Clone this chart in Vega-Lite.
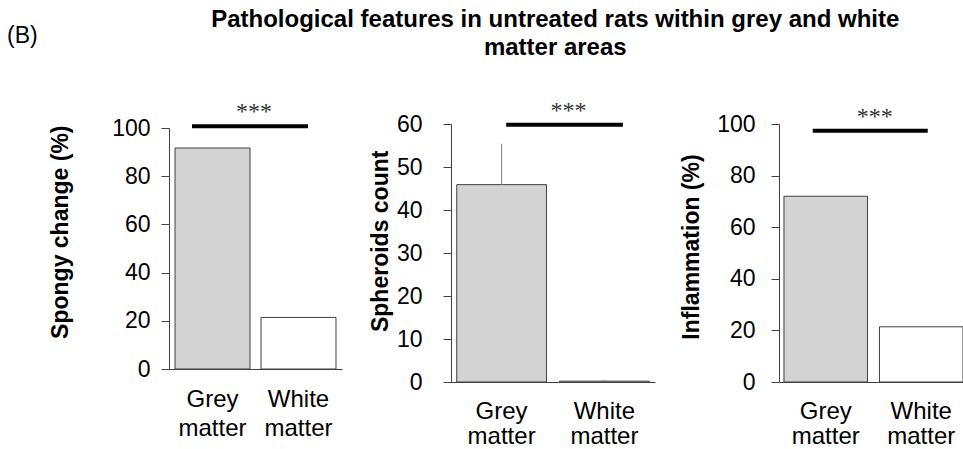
{
  "$schema": "https://vega.github.io/schema/vega-lite/v6.json",
  "autosize": {"type": "none"},
  "padding": {"left": 169, "top": 124, "right": 794, "bottom": 325},
  "background": "white",
  "title": {
    "text": ["Pathological features in untreated rats within grey and white", "matter areas"],
    "font": "Liberation Sans", "fontSize": 24, "fontWeight": "bold", "color": "black",
    "lineHeight": 28, "anchor": "middle", "baseline": "bottom", "dx": 70, "offset": -59
  },
  "config": {
    "view": {"stroke": null},
    "axis": {
      "labelFont": "Liberation Sans", "titleFont": "Liberation Sans",
      "labelColor": "black", "titleColor": "black",
      "domainColor": "#404040", "tickColor": "#404040", "grid": false
    }
  },
  "datasets": {
    "spongy": [
      {"region": "Grey matter", "value": 91.7},
      {"region": "White matter", "value": 21.4}
    ],
    "spongy_sig": [{"from": "Grey matter", "to": "White matter", "y": 100.7, "label": "***"}],
    "spheroids": [
      {"region": "Grey matter", "value": 45.9, "upper": 55.4},
      {"region": "White matter", "value": 0.2, "upper": 0.5}
    ],
    "spheroids_sig": [{"from": "Grey matter", "to": "White matter", "y": 59.8, "label": "***"}],
    "inflammation": [
      {"region": "Grey matter", "value": 72.0},
      {"region": "White matter", "value": 21.4}
    ],
    "inflammation_sig": [{"from": "Grey matter", "to": "White matter", "y": 97.4, "label": "***"}]
  },
  "bounds": "flush",
  "spacing": 109,
  "hconcat": [
    {
      "width": 173,
      "height": 245,
      "title": {"text": "(B)", "anchor": "start", "font": "Liberation Sans", "fontSize": 23, "fontWeight": "normal", "color": "black", "baseline": "bottom", "dx": -42, "offset": 29},
      "layer": [
        {
          "data": {"name": "spongy"},
          "mark": {"type": "bar", "stroke": "#404040", "strokeWidth": 1},
          "encoding": {
            "x": {
              "field": "region", "type": "nominal", "title": null,
              "scale": {"paddingInner": 0.128, "paddingOuter": 0.07},
              "axis": {"labelAngle": 0, "ticks": false, "tickSize": 0, "labelExpr": "split(datum.label, ' ')", "labelFontSize": 24, "labelLineHeight": 29, "labelPadding": 18, "labelBaseline": "top"}
            },
            "y": {
              "field": "value", "type": "quantitative", "title": "Spongy change (%)",
              "scale": {"domain": [0, 100], "range": [245, 4], "nice": false, "zero": true},
              "axis": {"values": [0, 10, 20, 30, 40, 50, 60, 70, 80, 90, 100], "labelExpr": "datum.value % 20 === 0 ? datum.label : ''", "tickSize": 8, "labelPadding": 11, "labelFontSize": 23, "titleFontSize": 23, "titleFontWeight": "bold", "titleX": -97, "titleY": 107.7, "titleAlign": "center", "titleBaseline": "bottom", "titleAngle": 270}
            },
            "color": {"field": "region", "type": "nominal", "scale": {"domain": ["Grey matter", "White matter"], "range": ["#d3d3d3", "#ffffff"]}, "legend": null}
          }
        },
        {
          "data": {"name": "spongy_sig"},
          "mark": {"type": "rule", "strokeWidth": 4, "color": "black", "xOffset": -20.5, "x2Offset": 9.5},
          "encoding": {
            "x": {"field": "from", "type": "nominal", "title": null},
            "x2": {"field": "to"},
            "y": {"field": "y", "type": "quantitative", "title": "Spongy change (%)"}
          }
        },
        {
          "data": {"name": "spongy_sig"},
          "mark": {"type": "text", "font": "Liberation Serif", "fontSize": 24, "color": "#333333", "dx": 41.5, "dy": -7, "baseline": "alphabetic"},
          "encoding": {
            "x": {"field": "from", "type": "nominal", "title": null},
            "y": {"field": "y", "type": "quantitative", "title": "Spongy change (%)"},
            "text": {"field": "label"}
          }
        }
      ]
    },
    {
      "bounds": "flush",
      "spacing": 124,
      "hconcat": [
        {
          "width": 204,
          "height": 258,
          "layer": [
            {
              "data": {"name": "spheroids"},
              "mark": {"type": "bar", "stroke": "#404040", "strokeWidth": 1},
              "encoding": {
                "x": {
                  "field": "region", "type": "nominal", "title": null,
                  "scale": {"paddingInner": 0.127, "paddingOuter": 0.056},
                  "axis": {"labelAngle": 0, "ticks": false, "tickSize": 0, "labelExpr": "split(datum.label, ' ')", "labelFontSize": 24, "labelLineHeight": 25, "labelPadding": 17, "labelBaseline": "top"}
                },
                "y": {
                  "field": "value", "type": "quantitative", "title": "Spheroids count",
                  "scale": {"domain": [0, 60], "nice": false, "zero": true},
                  "axis": {"values": [0, 5, 10, 15, 20, 25, 30, 35, 40, 45, 50, 55, 60], "labelExpr": "datum.value % 10 === 0 ? datum.label : ''", "tickSize": 8, "labelPadding": 21, "labelFontSize": 23, "titleFontSize": 23, "titleFontWeight": "bold", "titleX": -59, "titleY": 116.8, "titleAlign": "center", "titleBaseline": "bottom", "titleAngle": 270}
                },
                "color": {"field": "region", "type": "nominal", "scale": {"domain": ["Grey matter", "White matter"], "range": ["#d3d3d3", "#ffffff"]}, "legend": null}
              }
            },
            {
              "data": {"name": "spheroids"},
              "mark": {"type": "rule", "strokeWidth": 1, "color": "#7f7f7f"},
              "encoding": {
                "x": {"field": "region", "type": "nominal", "title": null},
                "y": {"field": "value", "type": "quantitative", "title": "Spheroids count"},
                "y2": {"field": "upper"}
              }
            },
            {
              "data": {"name": "spheroids_sig"},
              "mark": {"type": "rule", "strokeWidth": 4, "color": "black", "xOffset": 4.6, "x2Offset": 18.5},
              "encoding": {
                "x": {"field": "from", "type": "nominal", "title": null},
                "x2": {"field": "to"},
                "y": {"field": "y", "type": "quantitative", "title": "Spheroids count"}
              }
            },
            {
              "data": {"name": "spheroids_sig"},
              "mark": {"type": "text", "font": "Liberation Serif", "fontSize": 24, "color": "#333333", "dx": 67, "dy": -7, "baseline": "alphabetic"},
              "encoding": {
                "x": {"field": "from", "type": "nominal", "title": null},
                "y": {"field": "y", "type": "quantitative", "title": "Spheroids count"},
                "text": {"field": "label"}
              }
            }
          ]
        },
        {
          "width": 184,
          "height": 258,
          "layer": [
            {
              "data": {"name": "inflammation"},
              "mark": {"type": "bar", "stroke": "#404040", "strokeWidth": 1},
              "encoding": {
                "x": {
                  "field": "region", "type": "nominal", "title": null,
                  "scale": {"paddingInner": 0.125, "paddingOuter": 0.026, "align": 1},
                  "axis": {"labelAngle": 0, "ticks": false, "tickSize": 0, "labelExpr": "split(datum.label, ' ')", "labelFontSize": 24, "labelLineHeight": 25, "labelPadding": 17, "labelBaseline": "top"}
                },
                "y": {
                  "field": "value", "type": "quantitative", "title": "Inflammation (%)",
                  "scale": {"domain": [0, 100], "nice": false, "zero": true},
                  "axis": {"values": [0, 10, 20, 30, 40, 50, 60, 70, 80, 90, 100], "labelExpr": "datum.value % 20 === 0 ? datum.label : ''", "tickSize": 8, "labelPadding": 16, "labelFontSize": 23, "titleFontSize": 23, "titleFontWeight": "bold", "titleX": -76, "titleY": 122.5, "titleAlign": "center", "titleBaseline": "bottom", "titleAngle": 270}
                },
                "color": {"field": "region", "type": "nominal", "scale": {"domain": ["Grey matter", "White matter"], "range": ["#d3d3d3", "#ffffff"]}, "legend": null}
              }
            },
            {
              "data": {"name": "inflammation_sig"},
              "mark": {"type": "rule", "strokeWidth": 4, "color": "black", "xOffset": -13, "x2Offset": 6.5},
              "encoding": {
                "x": {"field": "from", "type": "nominal", "title": null},
                "x2": {"field": "to"},
                "y": {"field": "y", "type": "quantitative", "title": "Inflammation (%)"}
              }
            },
            {
              "data": {"name": "inflammation_sig"},
              "mark": {"type": "text", "font": "Liberation Serif", "fontSize": 24, "color": "#333333", "dx": 49, "dy": -7, "baseline": "alphabetic"},
              "encoding": {
                "x": {"field": "from", "type": "nominal", "title": null},
                "y": {"field": "y", "type": "quantitative", "title": "Inflammation (%)"},
                "text": {"field": "label"}
              }
            }
          ]
        }
      ]
    }
  ]
}
